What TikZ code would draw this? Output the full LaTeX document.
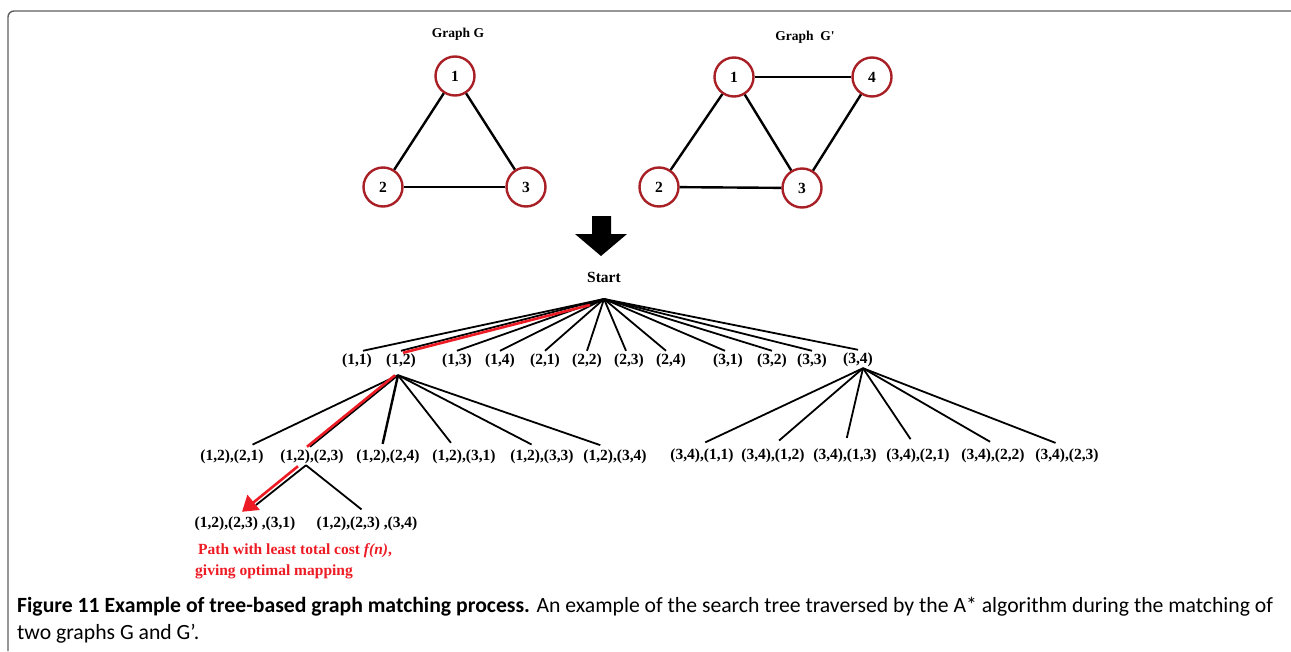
\documentclass[tikz,border=0pt]{standalone}
\usepackage{fontspec}
\setmainfont{Carlito}
\newfontfamily\tnr{Liberation Serif}
\usepackage{tikz}
\usetikzlibrary{positioning,arrows.meta}
\definecolor{nodered}{RGB}{168,32,38}
\definecolor{pathred}{RGB}{237,28,36}
\definecolor{frmgray}{RGB}{95,95,95}

\begin{document}
\begin{tikzpicture}[x=1pt, y=-1pt,
  vtx/.style={draw=nodered, circle, line width=2.4pt, minimum size=39pt, inner sep=0pt, font=\tnr\bfseries\fontsize{15.5}{18}\selectfont},
  ttl/.style={font=\tnr\bfseries\fontsize{13.5}{16}\selectfont},
  lbl/.style={font=\tnr\bfseries\fontsize{15.5}{18}\selectfont, inner sep=3pt},
  edge/.style={line width=2.4pt},
  tree/.style={line width=1.8pt},
  hl/.style={draw=pathred, line width=2.6pt},
  note/.style={text=pathred, font=\tnr\bfseries\fontsize{15.5}{18}\selectfont, inner sep=0pt},
  capt/.style={font=\fontsize{21.7}{27}\selectfont, inner sep=0pt}
]
\useasboundingbox (0,0) rectangle (1291,651);
\draw[frmgray, line width=1.4pt, rounded corners=6pt] (8,651) |- (1291,11);

% the two graphs
\node[ttl] (tg) at (458,34) {Graph G};
\node[vtx] (g1) at (455,76) {1};
\node[vtx] (g2) at (383,187) {2};
\node[vtx] (g3) at (526,187) {3};
\draw[edge] (g1) -- (g2);
\draw[edge] (g1) -- (g3);
\draw[edge] (g2) -- (g3);

\node[ttl] (th) at (805,37) {Graph\ \ G'};
\node[vtx] (h1) at (734,77) {1};
\node[vtx] (h4) at (872,77) {4};
\node[vtx] (h2) at (659,187) {2};
\node[vtx] (h3) at (802,188) {3};
\draw[edge] (h1) -- (h4);
\draw[edge] (h1) -- (h2);
\draw[edge] (h1) -- (h3);
\draw[edge] (h4) -- (h3);
\draw[edge] (h2) -- (h3);

% big arrow
\fill (592,216) -- (611,216) -- (611,234) -- (627,234) -- (601,256) -- (575,234) -- (592,234) -- cycle;

% search tree, first level
\node[lbl] (start) at (604,277) {Start};
\coordinate (root) at (604,299);
\node[lbl] (a11) at (357,361) {(1,1)};
\node[lbl] (a12) at (401,361) {(1,2)};
\node[lbl] (a13) at (457,361) {(1,3)};
\node[lbl] (a14) at (500,361) {(1,4)};
\node[lbl] (a21) at (545,361) {(2,1)};
\node[lbl] (a22) at (587,361) {(2,2)};
\node[lbl] (a23) at (629,361) {(2,3)};
\node[lbl] (a24) at (671,361) {(2,4)};
\node[lbl] (a31) at (728,361) {(3,1)};
\node[lbl] (a32) at (772,361) {(3,2)};
\node[lbl] (a33) at (812,361) {(3,3)};
\node[lbl] (a34) at (858,360) {(3,4)};
\draw[tree] (root) -- ([xshift=6pt]a11.north);
\draw[tree] (root) -- (a12.north);
\draw[tree] (root) -- (a13.north);
\draw[tree] (root) -- (a14.north);
\draw[tree] (root) -- (a21.north);
\draw[tree] (root) -- (a22.north);
\draw[tree] (root) -- ([xshift=-3pt]a23.north);
\draw[tree] (root) -- ([xshift=-5pt]a24.north);
\draw[tree] (root) -- ([xshift=-3pt]a31.north);
\draw[tree] (root) -- (a32.north);
\draw[tree] (root) -- (a33.north);
\draw[tree] (root) -- (a34.north);
\draw[hl] ([shift={(-14,6)}]root) -- ([shift={(2,2)}]a12.north);

% children of (1,2)
\coordinate (b0) at ([shift={(-3,4)}]a12.south);
\node[lbl] (b21) at (232,457) {(1,2),(2,1)};
\node[lbl] (b23) at (312,457) {(1,2),(2,3)};
\node[lbl] (b24) at (388,457) {(1,2),(2,4)};
\node[lbl] (b31) at (464,457) {(1,2),(3,1)};
\node[lbl] (b33) at (542,457) {(1,2),(3,3)};
\node[lbl] (b34) at (615,457) {(1,2),(3,4)};
\draw[tree, shorten >=5pt] (b0) -- ([xshift=16pt]b21.north);
\draw[tree] (b0) -- ([xshift=-2pt]b23.north);
\draw[tree, line width=2.4pt, shorten >=3pt] (b0) -- ([xshift=-6pt]b24.north);
\draw[tree, shorten >=5pt] (b0) -- ([xshift=-10pt]b31.north);
\draw[tree, shorten >=5pt] (b0) -- ([xshift=-6pt]b33.north);
\draw[tree, shorten >=5pt] (b0) -- ([xshift=-10pt]b34.north);
\draw[hl] ([shift={(-3,0)}]b0) -- ([shift={(-5,0)}]b23.north);

% children of (1,2),(2,3)
\coordinate (c0) at ([shift={(-6,-2)}]b23.south);
\node[lbl] (c31) at (245,524) {(1,2),(2,3) ,(3,1)};
\node[lbl] (c34) at (367,524) {(1,2),(2,3) ,(3,4)};
\draw[tree, shorten >=14pt] (c0) -- (c31.north);
\draw[tree, shorten >=7pt] (c0) -- (c34.north);
\draw[hl, -{Triangle[length=15pt, width=19pt]}] ([shift={(-8,1)}]c0) -- ([shift={(-3,-2)}]c31.north);
\node[note, anchor=base west] (path1) at (198,554) {Path with least total cost \textit{f(n)},};
\node[note, anchor=base west] (path2) at (195,575) {giving optimal mapping};

% children of (3,4)
\coordinate (d0) at ([shift={(5,-2)}]a34.south);
\node[lbl] (d11) at (702,456) {(3,4),(1,1)};
\node[lbl] (d12) at (773,456) {(3,4),(1,2)};
\node[lbl] (d13) at (845,456) {(3,4),(1,3)};
\node[lbl] (d21) at (918,456) {(3,4),(2,1)};
\node[lbl] (d22) at (993,456) {(3,4),(2,2)};
\node[lbl] (d23) at (1067,456) {(3,4),(2,3)};
\draw[tree, shorten >=8pt] (d0) -- ([xshift=-4pt]d11.north);
\draw[tree, shorten >=8pt] (d0) -- (d12.north);
\draw[tree, shorten >=8pt] (d0) -- (d13.north);
\draw[tree, shorten >=8pt] (d0) -- ([xshift=-3pt]d21.north);
\draw[tree, shorten >=8pt] (d0) -- ([xshift=4pt]d22.north);
\draw[tree, shorten >=8pt] (d0) -- ([xshift=-4pt]d23.north);

% caption
\node[capt, anchor=base west] (cap1) at (17,612) {\textbf{Figure 11 Example of tree-based graph matching process.} An example of the search tree traversed by the A* algorithm during the matching of};
\node[capt, anchor=base west] (cap2) at (17,639) {two graphs G and G’.};
\end{tikzpicture}
\end{document}
